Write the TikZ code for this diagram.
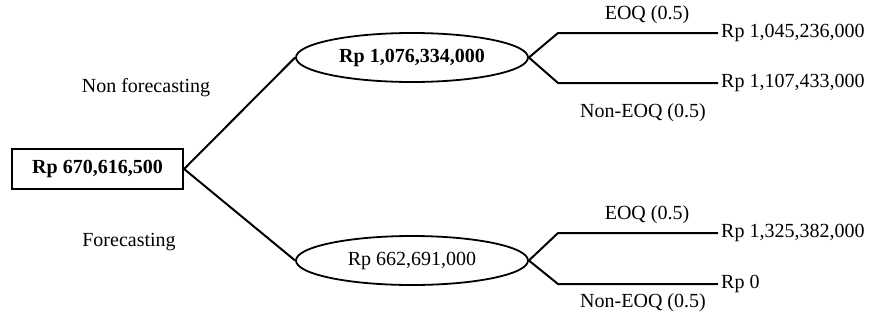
\documentclass[tikz,border=0pt]{standalone}
\usepackage{fontspec}
\setmainfont{Liberation Serif}
\usetikzlibrary{shapes.geometric}
\tikzset{
  branch/.style={line width=2pt, line join=round},
  rootbox/.style={draw, line width=2.2pt, minimum width=171pt, minimum height=40pt, inner sep=0pt},
  chance/.style={draw, ellipse, line width=1.8pt, minimum width=232pt, minimum height=49pt, inner sep=0pt},
  outcome/.style={anchor=west, inner sep=3pt},
  lbl/.style={inner sep=0pt}
}
\begin{document}
\begin{tikzpicture}[x=1pt, y=-1pt, font=\fontsize{20}{24}\selectfont]
  \useasboundingbox (0,0) rectangle (870,324);

  % decision node and the two chance nodes
  \node[rootbox] (root) at (97.5,169) {\bfseries Rp 670,616,500};
  \node[chance] (up) at (412,57.5) {\bfseries Rp 1,076,334,000};
  \node[chance] (lo) at (412,260.5) {Rp 662,691,000};

  % bends of the outcome branches
  \coordinate (ua) at (558,33);
  \coordinate (ub) at (558,83);
  \coordinate (la) at (558,233);
  \coordinate (lb) at (558,284);

  % outcome values
  \node[outcome] (o1) at (718,33) {Rp 1,045,236,000};
  \node[outcome] (o2) at (718,83) {Rp 1,107,433,000};
  \node[outcome] (o3) at (718,233) {Rp 1,325,382,000};
  \node[outcome] (o4) at (718,284) {Rp 0};

  % branches
  \draw[branch] (root.east) -- (up.west);
  \draw[branch] (root.east) -- (lo.west);
  \draw[branch] (up.east) -- (ua) -- (o1.west);
  \draw[branch] (up.east) -- (ub) -- (o2.west);
  \draw[branch] (lo.east) -- (la) -- (o3.west);
  \draw[branch] (lo.east) -- (lb) -- (o4.west);

  % branch labels
  \node[lbl] (nf) at (146,88) {Non forecasting};
  \node[lbl] (fc) at (129,242) {Forecasting};
  \node[lbl] (e1) at (647,15) {EOQ (0.5)};
  \node[lbl] (n1) at (643,113) {Non-EOQ (0.5)};
  \node[lbl] (e2) at (647,215) {EOQ (0.5)};
  \node[lbl] (n2) at (643,303) {Non-EOQ (0.5)};
\end{tikzpicture}
\end{document}
